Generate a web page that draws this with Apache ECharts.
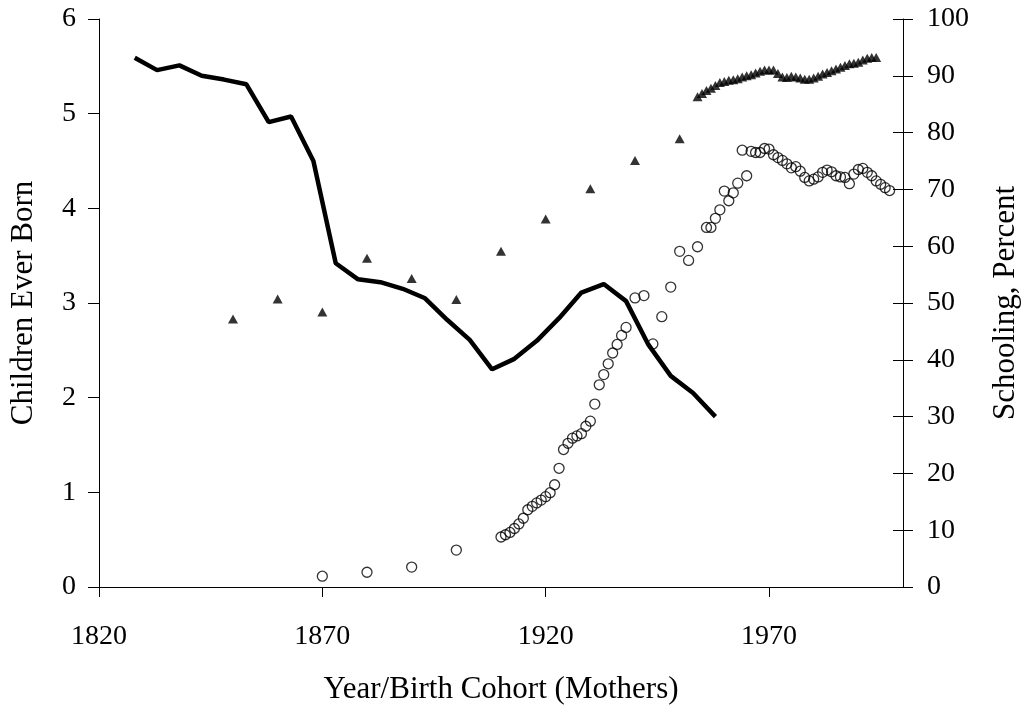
<!DOCTYPE html>
<html>
<head>
<meta charset="utf-8">
<script src="https://cdn.jsdelivr.net/npm/echarts@6/dist/echarts.min.js"></script>
<style>
  html, body { margin: 0; padding: 0; background: #fff; }
  #chart { width: 1024px; height: 708px; }
</style>
</head>
<body>
<div id="chart"></div>
<script>
  // children ever born (left axis), every 5 years
  const cebYears = [1828, 1833, 1838, 1843, 1848, 1853, 1858, 1863, 1868, 1873, 1878, 1883, 1888, 1893,
    1898, 1903, 1908, 1913, 1918, 1923, 1928, 1933, 1938, 1943, 1948, 1953, 1958];
  const cebValues = [5.59, 5.46, 5.51, 5.40, 5.36, 5.31, 4.91, 4.97, 4.50, 3.42, 3.25, 3.22, 3.15, 3.05,
    2.82, 2.61, 2.30, 2.41, 2.60, 2.84, 3.11, 3.20, 3.02, 2.56, 2.23, 2.05, 1.80];

  // schooling, triangles (right axis)
  const triYears = [1850, 1860, 1870, 1880, 1890, 1900, 1910, 1920, 1930, 1940, 1950,
    1954, 1955, 1956, 1957, 1958, 1959, 1960, 1961, 1962, 1963, 1964, 1965, 1966, 1967, 1968, 1969,
    1970, 1971, 1972, 1973, 1974, 1975, 1976, 1977, 1978, 1979, 1980, 1981, 1982, 1983, 1984, 1985,
    1986, 1987, 1988, 1989, 1990, 1991, 1992, 1993, 1994];
  const triValues = [47.2, 50.7, 48.4, 57.9, 54.3, 50.6, 59.1, 64.8, 70.1, 75.1, 78.9,
    86.3, 86.9, 87.4, 87.8, 88.3, 88.8, 89.0, 89.2, 89.3, 89.5, 89.8, 90.0, 90.2, 90.5, 90.8, 91.0,
    91.0, 91.0, 90.4, 89.8, 89.7, 89.9, 89.8, 89.6, 89.4, 89.4, 89.6, 89.9, 90.3, 90.6, 90.9, 91.2,
    91.5, 91.8, 92.1, 92.2, 92.4, 92.8, 93.1, 93.2, 93.2];

  // schooling, circles (right axis)
  const circYears = [1870, 1880, 1890, 1900,
    1910, 1911, 1912, 1913, 1914, 1915, 1916, 1917, 1918, 1919, 1920, 1921, 1922, 1923, 1924, 1925,
    1926, 1927, 1928, 1929, 1930, 1931, 1932, 1933, 1934, 1935, 1936, 1937, 1938, 1940, 1942, 1944,
    1946, 1948, 1950, 1952, 1954, 1956, 1957, 1958, 1959, 1960, 1961, 1962, 1963, 1964, 1965, 1966,
    1967, 1968, 1969, 1970, 1971, 1972, 1973, 1974, 1975, 1976, 1977, 1978, 1979, 1980, 1981, 1982,
    1983, 1984, 1985, 1986, 1987, 1988, 1989, 1990, 1991, 1992, 1993, 1994, 1995, 1996, 1997];
  const circValues = [1.9, 2.6, 3.5, 6.5,
    8.8, 9.2, 9.6, 10.3, 11.1, 12.1, 13.6, 14.2, 14.8, 15.3, 15.9, 16.6, 18.0, 20.9, 24.2, 25.3,
    26.2, 26.6, 27.0, 28.3, 29.2, 32.2, 35.6, 37.4, 39.3, 41.2, 42.7, 44.3, 45.7, 50.9, 51.3, 42.8,
    47.6, 52.8, 59.1, 57.5, 59.9, 63.3, 63.3, 64.9, 66.4, 69.7, 68.0, 69.4, 71.1, 76.9, 72.4, 76.7,
    76.5, 76.5, 77.2, 77.1, 76.1, 75.6, 75.1, 74.5, 73.8, 74.0, 73.2, 72.1, 71.5, 71.8, 72.2, 73.0,
    73.4, 73.1, 72.4, 72.2, 72.1, 71.0, 72.7, 73.5, 73.7, 73.0, 72.4, 71.5, 70.9, 70.3, 69.8];

  const xTicks = [1820, 1870, 1920, 1970];
  const font = '"Liberation Serif", "Times New Roman", serif';

  const zip = (xs, ys) => xs.map((x, i) => [x, ys[i]]);

  const chart = echarts.init(document.getElementById('chart'), null, { renderer: 'canvas' });
  chart.setOption({
    backgroundColor: '#fff',
    animation: false,
    textStyle: { fontFamily: font, color: '#000' },
    grid: { left: 99, right: 121, top: 19, bottom: 121, outerBoundsMode: 'none' },
    xAxis: {
      type: 'value', min: 1820, max: 2000, interval: 50,
      name: 'Year/Birth Cohort (Mothers)', nameLocation: 'middle', nameGap: 87,
      nameTextStyle: { fontFamily: font, fontSize: 31, color: '#000' },
      axisLine: { lineStyle: { color: '#000', width: 1 } },
      axisTick: { inside: false, length: 10, lineStyle: { color: '#000' } },
      axisLabel: {
        fontFamily: font, fontSize: 28, color: '#000', margin: 36, showMaxLabel: false,
        formatter: v => (xTicks.indexOf(v) >= 0 ? String(v) : '')
      },
      splitLine: { show: false }
    },
    yAxis: [
      {
        type: 'value', min: 0, max: 6, interval: 1, position: 'left',
        name: 'Children Ever Born', nameLocation: 'middle', nameGap: 60,
        nameTextStyle: { fontFamily: font, fontSize: 31, color: '#000' },
        axisLine: { show: true, lineStyle: { color: '#000', width: 1 } },
        axisTick: { show: true, length: 11, lineStyle: { color: '#000' } },
        axisLabel: { fontFamily: font, fontSize: 28, color: '#000', margin: 23 },
        splitLine: { show: false }
      },
      {
        type: 'value', min: 0, max: 100, interval: 10, position: 'right',
        name: 'Schooling, Percent', nameLocation: 'middle', nameGap: 87, nameRotate: 90,
        nameTextStyle: { fontFamily: font, fontSize: 31, color: '#000' },
        axisLine: { show: true, lineStyle: { color: '#000', width: 1 } },
        axisTick: { show: true, length: 10, lineStyle: { color: '#000' } },
        axisLabel: { fontFamily: font, fontSize: 28, color: '#000', margin: 24 },
        splitLine: { show: false }
      },
      {
        // inner half of the crossing ticks on the right axis
        type: 'value', min: 0, max: 100, interval: 10, position: 'right',
        axisLine: { show: false },
        axisTick: { show: true, inside: true, length: 10, lineStyle: { color: '#000' } },
        axisLabel: { show: false },
        splitLine: { show: false }
      }
    ],
    series: [
      {
        name: 'Children Ever Born', type: 'line', yAxisIndex: 0,
        data: zip(cebYears, cebValues),
        showSymbol: false, symbol: 'none',
        lineStyle: { color: '#000', width: 4.5 },
        z: 3
      },
      {
        name: 'Schooling A', type: 'scatter', yAxisIndex: 1,
        data: zip(triYears, triValues),
        symbol: 'triangle', symbolSize: [10, 9],
        itemStyle: { color: '#000' },
        z: 4
      },
      {
        name: 'Schooling B', type: 'scatter', yAxisIndex: 1,
        data: zip(circYears, circValues),
        symbol: 'circle', symbolSize: 10,
        itemStyle: { color: 'rgba(255,255,255,0)', borderColor: '#000', borderWidth: 1.3 },
        z: 4
      }
    ]
  });
</script>
</body>
</html>
